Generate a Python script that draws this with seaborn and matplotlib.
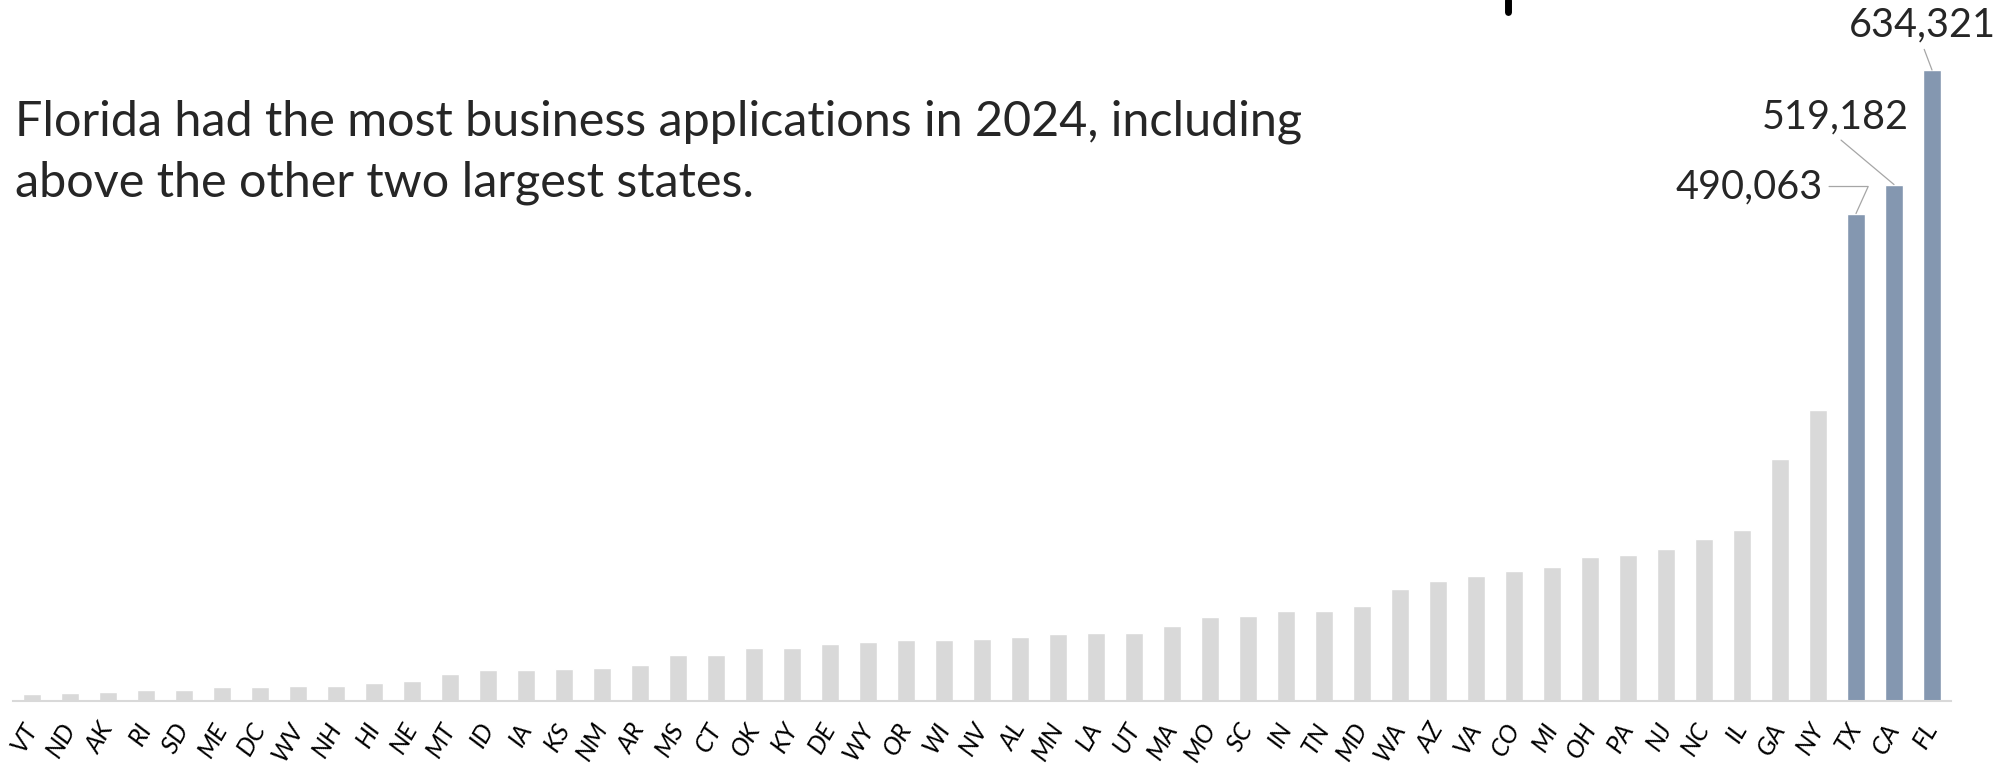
import matplotlib
matplotlib.use("Agg")
import matplotlib.pyplot as plt
import seaborn as sns
from matplotlib.lines import Line2D

states = ['VT', 'ND', 'AK', 'RI', 'SD', 'ME', 'DC', 'WV', 'NH', 'HI',
          'NE', 'MT', 'ID', 'IA', 'KS', 'NM', 'AR', 'MS', 'CT', 'OK',
          'KY', 'DE', 'WY', 'OR', 'WI', 'NV', 'AL', 'MN', 'LA', 'UT',
          'MA', 'MO', 'SC', 'IN', 'TN', 'MD', 'WA', 'AZ', 'VA', 'CO',
          'MI', 'OH', 'PA', 'NJ', 'NC', 'IL', 'GA', 'NY', 'TX', 'CA', 'FL']
applications = [7000, 8000, 8700, 10700, 11000, 13700, 14000, 14700, 15400, 17800,
                20400, 26800, 31200, 31500, 31800, 33200, 36200, 46200, 46200, 53300,
                53600, 57300, 59300, 61000, 61600, 62300, 64300, 67400, 68400, 68400,
                75400, 84800, 85800, 90100, 90100, 95200, 112900, 121000, 126000, 130400,
                134700, 145100, 146400, 152800, 162900, 171600, 243000, 292200, 490063, 519182, 634321]
highlight = ['TX', 'CA', 'FL']
title_lines = ["Florida had the most business applications in 2024, including",
               "above the other two largest states."]

grey = '#D9D9D9'
blue = '#8497B0'
palette = {s: (blue if s in highlight else grey) for s in states}

sns.set_style('white')
plt.rcParams['font.family'] = ['Lato', 'DejaVu Sans']

W, H = 2011, 764
fig = plt.figure(figsize=(W / 100, H / 100), dpi=100)
ax = fig.add_axes([13 / W, 63 / H, (1951 - 13) / W, 701 / H])

sns.barplot(x=states, y=applications, hue=states, palette=palette, order=states,
            width=0.45, saturation=1, legend=False, ax=ax)

ax.set_xlim(-0.5, len(states) - 0.5)
ax.set_ylim(0, max(applications) * 701 / 631)
ax.set_yticks([])
ax.set_ylabel('')
for side in ['top', 'right', 'left']:
    ax.spines[side].set_visible(False)
ax.spines['bottom'].set_color(grey)
ax.spines['bottom'].set_linewidth(1.5)
ax.tick_params(axis='x', length=0, pad=17)
for lab in ax.get_xticklabels():
    lab.set_rotation(60)
    lab.set_rotation_mode('anchor')
    lab.set_ha('right')
    lab.set_va('center')
    lab.set_fontsize(18)
    lab.set_fontstyle('italic')
    lab.set_color('black')

# labels for the three big states
lead = dict(arrowstyle='-', color='#A6A6A6', lw=0.9, shrinkB=0)
idx = {s: i for i, s in enumerate(states)}
v = applications[idx['TX']]
ax.annotate(f"{v:,}", xy=(idx['TX'], v), xytext=(-33, 27), textcoords='offset pixels',
            ha='right', va='center', fontsize=28.5,
            arrowprops=dict(lead, relpos=(1, 0.5), connectionstyle='angle,angleA=0,angleB=65.7,rad=0'))
v = applications[idx['CA']]
ax.annotate(f"{v:,}", xy=(idx['CA'], v), xytext=(-59, 68), textcoords='offset pixels',
            ha='center', va='center', fontsize=28.5,
            arrowprops=dict(lead, relpos=(0.5, 0)))
v = applications[idx['FL']]
ax.annotate(f"{v:,}", xy=(idx['FL'], v), xytext=(-10, 45), textcoords='offset pixels',
            ha='center', va='center', fontsize=28.5,
            arrowprops=dict(lead, relpos=(0.5, 0)))

# title, sized to the reference line width
t1 = fig.text(15 / W, 1 - 135 / H, title_lines[0], fontsize=34, va='baseline', ha='left')
t2 = fig.text(15 / W, 1 - 196.7 / H, title_lines[1], fontsize=34, va='baseline', ha='left')
fig.canvas.draw()
w = t1.get_window_extent().width
fs = 34 * 1293 / w
t1.set_fontsize(fs)
t2.set_fontsize(fs)

# cut-off mark at the top edge
fig.add_artist(Line2D([1508 / W, 1508 / W], [1.0, 1 - 11.5 / H], color='black', lw=5,
                      solid_capstyle='round'))

fig.savefig('out.png', dpi=100)
